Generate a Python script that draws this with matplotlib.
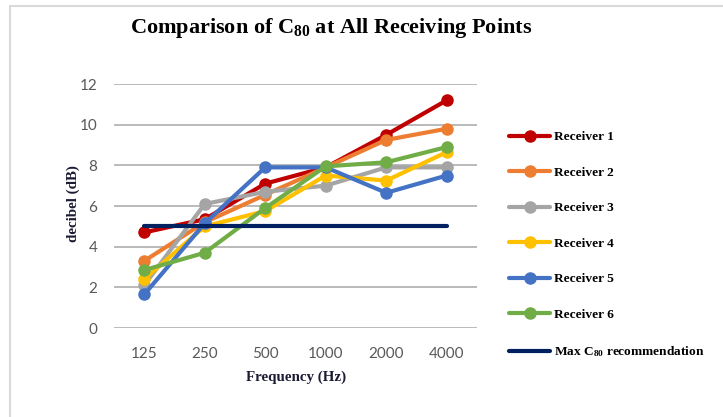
import matplotlib
matplotlib.use("Agg")
import matplotlib.pyplot as plt
from matplotlib.patches import Rectangle

# data
freqs = ["125", "250", "500", "1000", "2000", "4000"]
receiver_1 = [4.7, 5.35, 7.1, 7.9, 9.5, 11.2]
receiver_2 = [3.3, 5.2, 6.55, 7.9, 9.25, 9.8]
receiver_3 = [2.1, 6.1, 6.7, 7.0, 7.9, 7.9]
receiver_4 = [2.4, 5.0, 5.75, 7.5, 7.25, 8.65]
receiver_5 = [1.65, 5.15, 7.9, 7.9, 6.65, 7.5]
receiver_6 = [2.85, 3.7, 5.9, 7.95, 8.15, 8.9]
max_c80 = [5, 5, 5, 5, 5, 5]

series = [
    ("Receiver 1", receiver_1, "#c00000"),
    ("Receiver 2", receiver_2, "#ed7d31"),
    ("Receiver 3", receiver_3, "#a5a5a5"),
    ("Receiver 4", receiver_4, "#ffc000"),
    ("Receiver 5", receiver_5, "#4472c4"),
    ("Receiver 6", receiver_6, "#70ad47"),
]

plt.rcParams["mathtext.default"] = "regular"
serif = "Liberation Serif"

W, H = 723, 417
fig = plt.figure(figsize=(W / 100, H / 100), dpi=100)

# light frame around the chart
fig.patches.append(Rectangle((10 / W, -0.1), 1.2, 1.1 - 6 / H,
                             transform=fig.transFigure, fill=False,
                             edgecolor="#d9d9d9", linewidth=1.5))

ax = fig.add_axes([114 / W, 1 - 328 / H, 363 / W, 244 / H])
x = list(range(len(freqs)))

for name, vals, col in series:
    ax.plot(x, vals, color=col, linewidth=3, marker="o", markersize=8,
            label=name, solid_capstyle="round")
ax.plot(x, max_c80, color="#002060", linewidth=3,
        label="Max C$_{80}$ recommendation", solid_capstyle="round")

ax.set_xlim(-0.5, len(freqs) - 0.5)
ax.set_ylim(0, 12)
ax.set_yticks(range(0, 13, 2))
ax.set_xticks(x)
ax.set_xticklabels(freqs)
ax.grid(axis="y", color="#b4b4b4", linewidth=1.3)
ax.set_axisbelow(True)
for s in ax.spines.values():
    s.set_visible(False)
ax.tick_params(length=0, labelsize=11, labelcolor="#595959")
ax.tick_params(axis="x", pad=14)
ax.tick_params(axis="y", pad=12)
for lab in ax.get_xticklabels() + ax.get_yticklabels():
    lab.set_family("Lato")

fig.text(331 / W, 1 - 28 / H, "Comparison of C$_{80}$ at All Receiving Points",
         ha="center", va="center", family=serif, weight="bold", fontsize=16)
fig.text(296 / W, 1 - 377 / H, "Frequency (Hz)", ha="center", va="center",
         family=serif, weight="bold", fontsize=10.8, color="#1a1a33")
fig.text(73 / W, 1 - 204 / H, "decibel (dB)", ha="center", va="center",
         rotation=90, family=serif, weight="bold", fontsize=10.8, color="#1a1a33")

fig.legend(loc="upper left", bbox_to_anchor=(497 / W, 1 - 119 / H),
           frameon=False, handlelength=3.1, labelspacing=1.74,
           handletextpad=0.3, prop={"family": serif, "weight": "bold", "size": 9.6})

fig.savefig("out.png", dpi=100)
